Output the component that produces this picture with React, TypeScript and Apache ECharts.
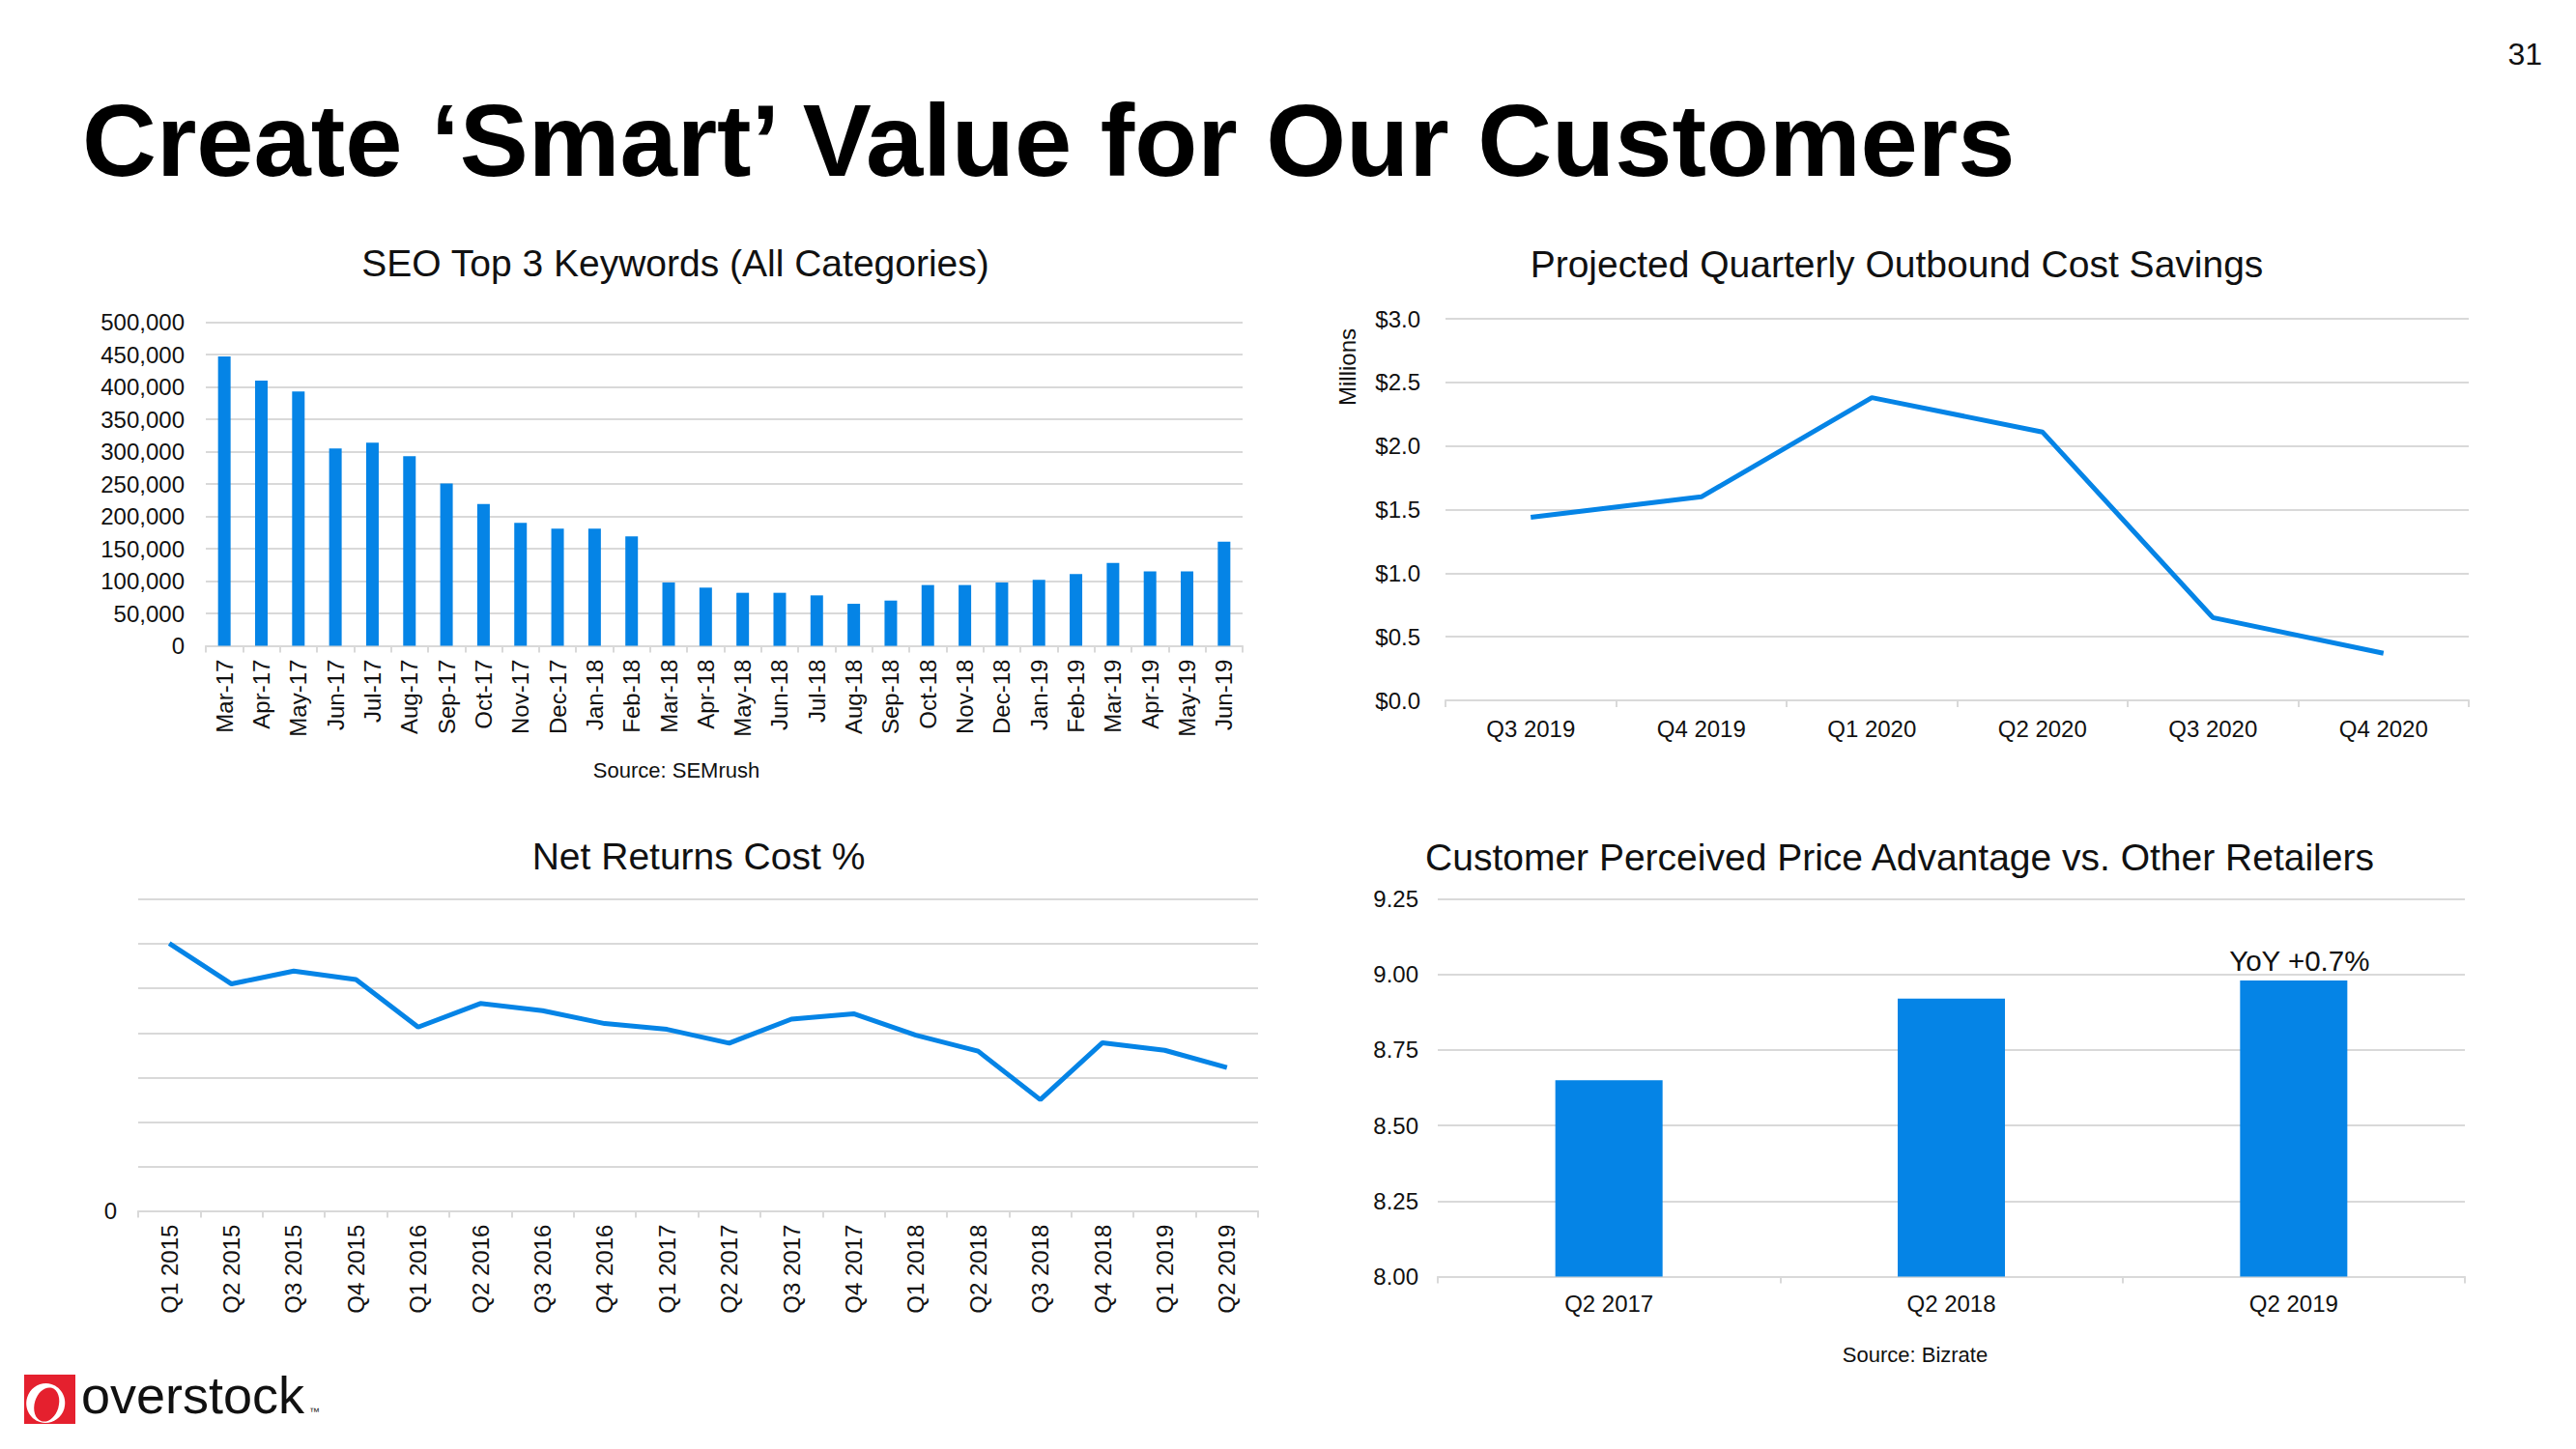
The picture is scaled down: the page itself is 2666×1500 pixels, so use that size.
import React, { useEffect, useRef } from 'react';
import * as echarts from 'echarts';

const FONT = '"Liberation Sans", Arial, Helvetica, sans-serif';
const BLUE = '#0584E6';
const GRID_GRAY = '#d9d9d9';
const TEXT = '#111111';

// SEO Top 3 Keywords
const seoCategories = [
  'Mar-17', 'Apr-17', 'May-17', 'Jun-17', 'Jul-17', 'Aug-17', 'Sep-17', 'Oct-17', 'Nov-17', 'Dec-17',
  'Jan-18', 'Feb-18', 'Mar-18', 'Apr-18', 'May-18', 'Jun-18', 'Jul-18', 'Aug-18', 'Sep-18', 'Oct-18',
  'Nov-18', 'Dec-18', 'Jan-19', 'Feb-19', 'Mar-19', 'Apr-19', 'May-19', 'Jun-19',
];
const seoValues = [
  447000, 410000, 393000, 305000, 314000, 293000, 251000, 219000, 190000, 181000,
  181000, 169000, 98000, 90000, 82000, 82000, 78000, 65000, 70000, 94000,
  94000, 98000, 102000, 111000, 128000, 115000, 115000, 161000,
];

// Projected Quarterly Outbound Cost Savings ($ millions)
const savingsQuarters = ['Q3 2019', 'Q4 2019', 'Q1 2020', 'Q2 2020', 'Q3 2020', 'Q4 2020'];
const savingsValues = [1.44, 1.6, 2.38, 2.11, 0.65, 0.37];

// Net Returns Cost % (axis values hidden in source; gridline units)
const returnsQuarters = [
  'Q1 2015', 'Q2 2015', 'Q3 2015', 'Q4 2015', 'Q1 2016', 'Q2 2016', 'Q3 2016', 'Q4 2016', 'Q1 2017',
  'Q2 2017', 'Q3 2017', 'Q4 2017', 'Q1 2018', 'Q2 2018', 'Q3 2018', 'Q4 2018', 'Q1 2019', 'Q2 2019',
];
const returnsValues = [6.01, 5.1, 5.39, 5.2, 4.13, 4.66, 4.5, 4.21, 4.08, 3.77, 4.31, 4.43, 3.95, 3.59, 2.5, 3.78, 3.61, 3.22];

// Customer Perceived Price Advantage
const priceQuarters = ['Q2 2017', 'Q2 2018', 'Q2 2019'];
const priceValues = [8.65, 8.92, 8.98];
const priceNote = 'YoY +0.7%';

function catAxis(gridIndex: number, data: string[], rotate: number, margin: number) {
  return {
    type: 'category',
    gridIndex,
    data,
    axisLine: { show: true, lineStyle: { color: GRID_GRAY, width: 2 } },
    axisTick: { show: true, length: 7, lineStyle: { color: GRID_GRAY, width: 2 } },
    axisLabel: { rotate, margin, fontSize: 24, color: TEXT, fontFamily: FONT, interval: 0 },
  };
}

function valAxis(gridIndex: number, min: number, max: number, interval: number, formatter: any, margin: number) {
  return {
    type: 'value',
    gridIndex,
    min,
    max,
    interval,
    axisLine: { show: false },
    axisTick: { show: false },
    splitLine: { show: true, lineStyle: { color: GRID_GRAY, width: 2 } },
    axisLabel: { formatter, margin, fontSize: 24, color: TEXT, fontFamily: FONT },
  };
}

function txt(text: string, x: number, y: number, fontSize: number, align = 'center', extra: any = {}) {
  return {
    type: 'text',
    x,
    y,
    silent: true,
    ...extra,
    style: {
      text,
      fontSize,
      fontFamily: FONT,
      fill: TEXT,
      align,
      verticalAlign: 'middle',
      ...(extra.style || {}),
    },
  };
}

export default function App() {
  const ref = useRef<HTMLDivElement>(null);

  useEffect(() => {
    if (!ref.current) return;
    const chart = echarts.init(ref.current, null, { renderer: 'svg' });

    const option: any = {
      animation: false,
      backgroundColor: '#ffffff',
      textStyle: { fontFamily: FONT },
      grid: [
        { left: 213, top: 333.6, width: 1073, height: 335, containLabel: false },
        { left: 1496, top: 330, width: 1059, height: 395, containLabel: false },
        { left: 143, top: 931, width: 1159, height: 322.6, containLabel: false },
        { left: 1488, top: 930.7, width: 1063, height: 390.7, containLabel: false },
      ],
      xAxis: [
        catAxis(0, seoCategories, 90, 14),
        catAxis(1, savingsQuarters, 0, 17),
        catAxis(2, returnsQuarters, 90, 14),
        catAxis(3, priceQuarters, 0, 16),
      ],
      yAxis: [
        valAxis(0, 0, 500000, 50000, (v: number) => v.toLocaleString('en-US'), 22),
        valAxis(1, 0, 3, 0.5, (v: number) => '$' + v.toFixed(1), 26),
        valAxis(2, 0, 7, 1, (v: number) => (v === 0 ? '0' : ''), 22),
        valAxis(3, 8, 9.25, 0.25, (v: number) => v.toFixed(2), 20),
      ],
      series: [
        {
          type: 'bar',
          xAxisIndex: 0,
          yAxisIndex: 0,
          data: seoValues,
          barWidth: 13,
          itemStyle: { color: BLUE },
        },
        {
          type: 'line',
          xAxisIndex: 1,
          yAxisIndex: 1,
          data: savingsValues,
          showSymbol: false,
          symbol: 'none',
          lineStyle: { color: BLUE, width: 5 },
        },
        {
          type: 'line',
          xAxisIndex: 2,
          yAxisIndex: 2,
          data: returnsValues,
          showSymbol: false,
          symbol: 'none',
          lineStyle: { color: BLUE, width: 5 },
        },
        {
          type: 'bar',
          xAxisIndex: 3,
          yAxisIndex: 3,
          barWidth: 111,
          itemStyle: { color: BLUE },
          data: priceValues.map((v, i) =>
            i === priceValues.length - 1
              ? {
                  value: v,
                  label: {
                    show: true,
                    position: 'top',
                    distance: 6,
                    offset: [6, 0],
                    formatter: priceNote,
                    fontSize: 29.5,
                    color: TEXT,
                    fontFamily: FONT,
                  },
                }
              : v
          ),
        },
      ],
      graphic: [
        txt('Create \u2018Smart\u2019 Value for Our Customers', 85, 145, 106.5, 'left', {
          style: { fontWeight: 'bold', fill: '#000000' },
        }),
        txt('31', 2631, 56, 32, 'right'),
        txt('SEO Top 3 Keywords (All Categories)', 699, 272, 39),
        txt('Projected Quarterly Outbound Cost Savings', 1963, 273, 39),
        txt('Net Returns Cost %', 723, 886, 39),
        txt('Customer Perceived Price Advantage vs. Other Retailers', 1966, 887, 39),
        txt('Source: SEMrush', 700, 797, 22),
        txt('Source: Bizrate', 1982, 1402, 22),
        txt('Millions', 1394, 380, 24, 'center', { rotation: Math.PI / 2 }),
        // overstock logo
        { type: 'rect', silent: true, shape: { x: 25, y: 1423, width: 53, height: 51 }, style: { fill: '#E5202E' } },
        {
          type: 'ellipse',
          silent: true,
          shape: { cx: 48, cy: 1453, rx: 20, ry: 20.5 },
          rotation: -0.3,
          originX: 48,
          originY: 1453,
          style: { fill: '#ffffff' },
        },
        {
          type: 'ellipse',
          silent: true,
          shape: { cx: 49, cy: 1454.5, rx: 12.5, ry: 18 },
          rotation: -0.3,
          originX: 49,
          originY: 1454.5,
          style: { fill: '#E5202E' },
        },
        txt('overstock', 84, 1444, 54, 'left', { style: { fill: '#111111' } }),
        txt('\u2122', 320, 1461, 11, 'left'),
      ],
    };

    chart.setOption(option);
    return () => chart.dispose();
  }, []);

  return (
    <div
      ref={ref}
      style={{ position: 'fixed', left: 0, top: 0, width: 2666, height: 1500, background: '#ffffff' }}
    />
  );
}
